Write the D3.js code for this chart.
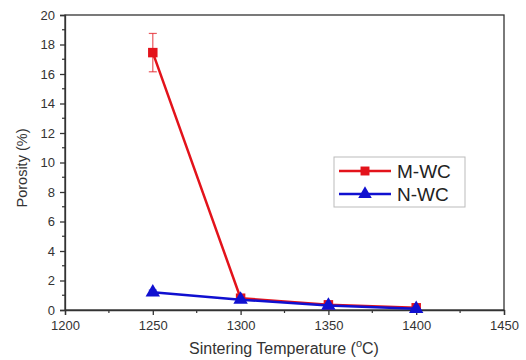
<!DOCTYPE html>
<html>
<head>
<meta charset="utf-8">
<script src="https://cdn.jsdelivr.net/npm/d3@7"></script>
<style>
body { margin: 0; background: #fff; }
svg { font-family: Arial, 'Liberation Sans', sans-serif; }
.tick text { fill: #333; font-size: 13px; }
.domain, .tick line { stroke: #333; stroke-width: 1.3; }
</style>
</head>
<body>
<div id="chart"></div>
<script>
const temps = [1250, 1300, 1350, 1400]
const mwc = [17.45, 0.8, 0.35, 0.15]
const mwcErr = [1.3, 0.1, 0.08, 0.05]
const nwc = [1.2, 0.7, 0.3, 0.08]
const nwcErr = [0.15, 0.08, 0.05, 0.03]
const xTicks = [1200, 1250, 1300, 1350, 1400, 1450]
const yTicks = [0, 2, 4, 6, 8, 10, 12, 14, 16, 18, 20]
const seriesNames = ['M-WC', 'N-WC']

const width = 526
const height = 360
const margin = { top: 15, right: 22, bottom: 50, left: 65 }

const svg = d3.select('#chart').append('svg').attr('width', width).attr('height', height)

const x = d3.scaleLinear().domain([1200, 1450]).range([margin.left, width - margin.right])
const y = d3.scaleLinear().domain([0, 20]).range([height - margin.bottom, margin.top])

// frame
svg.append('rect')
	.attr('x', x(1200)).attr('y', y(20))
	.attr('width', x(1450) - x(1200)).attr('height', y(0) - y(20))
	.attr('fill', 'none').attr('stroke', '#333').attr('stroke-width', 1.3)

// minor ticks
const xMinor = d3.range(1225, 1450, 50)
svg.append('g').selectAll('line').data(xMinor).join('line')
	.attr('x1', d => x(d)).attr('x2', d => x(d))
	.attr('y1', y(0)).attr('y2', y(0) + 3)
	.attr('stroke', '#333').attr('stroke-width', 1.2)
const yMinor = d3.range(1, 20, 2)
svg.append('g').selectAll('line').data(yMinor).join('line')
	.attr('y1', d => y(d)).attr('y2', d => y(d))
	.attr('x1', x(1200)).attr('x2', x(1200) - 3)
	.attr('stroke', '#333').attr('stroke-width', 1.2)

svg.append('g')
	.attr('transform', `translate(0,${y(0)})`)
	.call(d3.axisBottom(x).tickValues(xTicks).tickFormat(d3.format('d')).tickSize(5).tickPadding(6))

svg.append('g')
	.attr('transform', `translate(${x(1200)},0)`)
	.call(d3.axisLeft(y).tickValues(yTicks).tickSize(5).tickPadding(5))

// axis titles
svg.append('text')
	.attr('transform', `translate(27,168) rotate(-90)`)
	.attr('text-anchor', 'middle')
	.attr('font-size', 14.5).attr('fill', '#333')
	.text('Porosity (%)')

const xt = svg.append('text')
	.attr('x', 284).attr('y', 354)
	.attr('text-anchor', 'middle')
	.attr('font-size', 16).attr('fill', '#333')
xt.append('tspan').text('Sintering Temperature (')
xt.append('tspan').attr('dy', -7).attr('font-size', 11).text('o')
xt.append('tspan').attr('dy', 7).text('C)')

const series = [
	{ name: seriesNames[0], vals: mwc, err: mwcErr, color: '#e3131b', shape: d3.symbolSquare },
	{ name: seriesNames[1], vals: nwc, err: nwcErr, color: '#1010d0', shape: d3.symbolTriangle },
]

const line = d3.line().x((d, i) => x(temps[i])).y(d => y(d))

series.forEach(s => {
	const g = svg.append('g')
	// error bars
	s.vals.forEach((v, i) => {
		const cx = x(temps[i])
		const e = s.err[i]
		g.append('line').attr('x1', cx).attr('x2', cx).attr('y1', y(v - e)).attr('y2', y(v + e))
			.attr('stroke', s.color).attr('stroke-width', 1.2).attr('opacity', 0.7)
		;[v - e, v + e].forEach(ev => {
			g.append('line').attr('x1', cx - 4).attr('x2', cx + 4).attr('y1', y(ev)).attr('y2', y(ev))
				.attr('stroke', s.color).attr('stroke-width', 1.2).attr('opacity', 0.7)
		})
	})
	g.append('path').datum(s.vals).attr('d', line)
		.attr('fill', 'none').attr('stroke', s.color).attr('stroke-width', 2.5)
	g.selectAll('path.pt').data(s.vals).join('path')
		.attr('class', 'pt')
		.attr('transform', (d, i) => `translate(${x(temps[i])},${y(d)})`)
		.attr('d', d3.symbol().type(s.shape).size(90))
		.attr('fill', s.color)
})

// legend
const lg = svg.append('g').attr('transform', 'translate(334,157)')
lg.append('rect').attr('width', 131).attr('height', 50)
	.attr('fill', '#fff').attr('stroke', '#bbb').attr('stroke-width', 1)
series.forEach((s, i) => {
	const ly = 14 + i * 23
	lg.append('line').attr('x1', 5).attr('x2', 57).attr('y1', ly).attr('y2', ly)
		.attr('stroke', s.color).attr('stroke-width', 2.5)
	lg.append('path').attr('transform', `translate(31,${ly})`)
		.attr('d', d3.symbol().type(s.shape).size(80)).attr('fill', s.color)
	lg.append('text').attr('x', 63).attr('y', ly + 7)
		.attr('font-size', 19).attr('fill', '#222').text(s.name)
})
</script>
</body>
</html>
